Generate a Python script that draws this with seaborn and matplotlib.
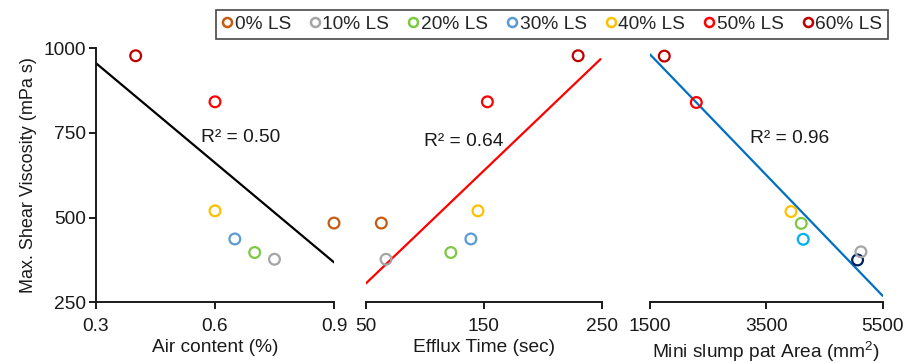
import matplotlib
matplotlib.use("Agg")
import matplotlib.pyplot as plt
from matplotlib.lines import Line2D
import seaborn as sns
import pandas as pd

# ---------------- data ----------------
mixes = ["0% LS", "10% LS", "20% LS", "30% LS", "40% LS", "50% LS", "60% LS"]
mix_colors = ["#C55A11", "#A5A5A5", "#7DC843", "#5B9BD5", "#FFC000", "#FF0000", "#C00000"]

viscosity = [484, 377, 397, 437, 520, 842, 978]          # mPa s
air_content = [0.90, 0.75, 0.70, 0.65, 0.60, 0.60, 0.40]  # %
efflux_time = [63, 67, 122, 139, 145, 153, 230]           # sec

slump_labels = ["0% LS", "10% LS", "20% LS", "30% LS", "40% LS", "50% LS", "60% LS"]
slump_colors = ["#002060", "#A5A5A5", "#7DC843", "#00B0F0", "#FFC000", "#FF0000", "#C00000"]
slump_area = [5068, 5126, 4100, 4134, 3923, 2296, 1746]   # mm2
slump_visc = [375, 399, 483, 436, 518, 840, 977]

trend_air_x = [0.3, 0.9]
trend_air_y = [956, 368]
trend_eff_x = [50, 249]
trend_eff_y = [306, 968]
trend_slump_x = [1500, 5500]
trend_slump_y = [982, 269]

r2_labels = ["R\u00b2 = 0.50", "R\u00b2 = 0.64", "R\u00b2 = 0.96"]

x_ticks_air = [0.3, 0.6, 0.9]
x_ticks_eff = [50, 150, 250]
x_ticks_slump = [1500, 3500, 5500]
y_ticks = [250, 500, 750, 1000]

# ---------------- style ----------------
sns.set_theme(style="white")
plt.rcParams["font.family"] = ["Liberation Sans", "DejaVu Sans"]
plt.rcParams["mathtext.fontset"] = "custom"
plt.rcParams["mathtext.rm"] = "Liberation Sans"
plt.rcParams["mathtext.it"] = "Liberation Sans:italic"

FS = 13.8
W, H = 907, 363
fig = plt.figure(figsize=(W / 100, H / 100), dpi=100)

def axpos(x0, x1, ytop=48.3, ybot=302.3):
    return [x0 / W, 1 - ybot / H, (x1 - x0) / W, (ybot - ytop) / H]

ax1 = fig.add_axes(axpos(96, 334))
ax2 = fig.add_axes(axpos(366, 601.7))
ax3 = fig.add_axes(axpos(650, 882.7))

df1 = pd.DataFrame({"x": air_content, "y": viscosity, "mix": mixes})
df2 = pd.DataFrame({"x": efflux_time, "y": viscosity, "mix": mixes})
df3 = pd.DataFrame({"x": slump_area, "y": slump_visc, "mix": slump_labels})

panels = [
    (ax1, df1, dict(zip(mixes, mix_colors)), trend_air_x, trend_air_y, "black",
     (0.3, 0.9), x_ticks_air, ["0.3", "0.6", "0.9"], "Air content (%)", (0.665, 738)),
    (ax2, df2, dict(zip(mixes, mix_colors)), trend_eff_x, trend_eff_y, "#FF0000",
     (50, 250), x_ticks_eff, ["50", "150", "250"], "Efflux Time (sec)", (133, 726)),
    (ax3, df3, dict(zip(slump_labels, slump_colors)), trend_slump_x, trend_slump_y, "#0070C0",
     (1500, 5500), x_ticks_slump, ["1500", "3500", "5500"],
     r"Mini slump pat Area (mm$^\mathregular{2}$)", (3905, 735)),
]

for i, (ax, df, pal, tx, ty, lc, xl, xt, xtl, xlab, r2pos) in enumerate(panels):
    sns.lineplot(x=tx, y=ty, ax=ax, color=lc, linewidth=1.6, legend=False)
    sns.scatterplot(data=df, x="x", y="y", hue="mix", palette=pal, ax=ax,
                    s=60, linewidth=1.6, legend=False, clip_on=False, zorder=3)
    coll = ax.collections[-1]
    fc = coll.get_facecolors()
    coll.set_edgecolors(fc)
    coll.set_facecolors("none")
    ax.set_xlim(*xl)
    ax.set_ylim(250, 1000)
    ax.set_xticks(xt)
    ax.set_xticklabels(xtl)
    ax.set_xlabel(xlab, fontsize=FS, labelpad=3.5, color="#1a1a1a")
    ax.text(r2pos[0], r2pos[1], r2_labels[i], fontsize=FS, ha="center", va="center",
            color="#1a1a1a")
    ax.tick_params(axis="x", direction="out", length=5, width=1.4, pad=6,
                   labelsize=FS, colors="#1a1a1a", bottom=True)
    for s in ["top", "right"]:
        ax.spines[s].set_visible(False)
    ax.spines["bottom"].set_linewidth(1.4)
    ax.spines["bottom"].set_color("#1a1a1a")
    ax.patch.set_alpha(0)
    if i == 0:
        ax.set_yticks(y_ticks)
        ax.tick_params(axis="y", direction="out", length=5, width=1.4, pad=2,
                       labelsize=FS, colors="#1a1a1a", left=True)
        ax.spines["left"].set_linewidth(1.4)
        ax.spines["left"].set_color("#1a1a1a")
        ax.set_ylabel("Max. Shear Viscosity (mPa s)", fontsize=FS - 0.8, labelpad=5,
                      color="#1a1a1a")
    else:
        ax.spines["left"].set_visible(False)
        ax.set_yticks([])
        ax.set_ylabel("")

handles = [Line2D([], [], marker="o", linestyle="none", markersize=6.5,
                  markerfacecolor="none", markeredgecolor=c, markeredgewidth=1.8)
           for c in mix_colors]
leg = fig.legend(handles, mixes, loc="upper right", ncol=7,
                 bbox_to_anchor=(888 / W, 1 - 10 / H), borderaxespad=0,
                 fontsize=FS, frameon=True, fancybox=False, handlelength=0.5,
                 handletextpad=0.15, columnspacing=1.0, borderpad=0.3)
leg.get_frame().set_edgecolor("#1a1a1a")
leg.get_frame().set_linewidth(1.2)

fig.savefig("out.png", dpi=100)
